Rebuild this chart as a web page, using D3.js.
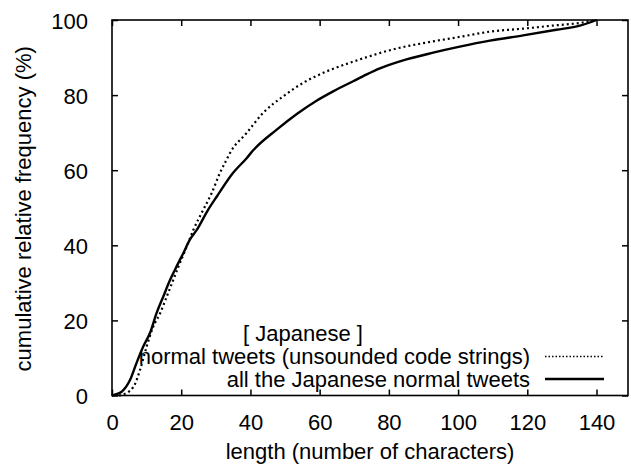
<!DOCTYPE html>
<html>
<head>
<meta charset="utf-8">
<script src="https://cdn.jsdelivr.net/npm/d3@7"></script>
<style>
  html, body { margin: 0; padding: 0; background: #fff; }
  svg { display: block; }
  text { font-family: "Liberation Sans", Arial, Helvetica, sans-serif; fill: #000; }
</style>
</head>
<body>
<svg id="chart" width="631" height="464"></svg>
<script>
// ---- data ----
const xTicks = [0, 20, 40, 60, 80, 100, 120, 140];
const yTicks = [0, 20, 40, 60, 80, 100];

const seriesNames = ["normal tweets (unsounded code strings)", "all the Japanese normal tweets"];
const legendTitle = "[ Japanese ]";
const xLabel = "length (number of characters)";
const yLabel = "cumulative relative frequency (%)";

// dotted: normal tweets (unsounded code strings)
const unsoundedX = [2, 3.3, 6.2, 8.1, 10.0, 11.9, 13.9, 15.8, 17.7, 19.2, 21.6, 23.5, 26.4, 28.8, 31.2, 33.1, 34.1, 38.9, 43.7, 49.5, 55.3, 62.0, 68.7, 71.6, 81.3, 90.9, 100.5, 109.2, 118.8, 128.4, 135.2, 140];
const unsoundedY = [0, 0.3, 2.3, 6.8, 13.0, 18.3, 21.9, 26.3, 30.8, 34.3, 39.7, 44.1, 49.5, 53.9, 59.3, 62.8, 64.6, 69.9, 75.3, 79.7, 83.3, 86.3, 88.6, 89.5, 92.2, 94.0, 95.5, 96.9, 97.7, 98.6, 99.2, 100];

// solid: all the Japanese normal tweets
const allX = [0, 1, 2.8, 5.2, 7.1, 9.0, 11.0, 12.9, 14.8, 16.8, 18.2, 20.6, 22.5, 24.5, 27.8, 30.3, 35.0, 38.9, 40.8, 47.6, 53.3, 59.1, 63.9, 69.7, 73.6, 77.4, 85.1, 92.8, 100.5, 109.2, 118.8, 128.4, 135.2, 140];
const allY = [0, 0.3, 1.0, 4.1, 8.7, 13.0, 16.7, 22.0, 26.3, 30.8, 33.5, 37.9, 41.5, 44.1, 49.5, 53.0, 59.3, 63.2, 65.3, 70.8, 74.9, 78.5, 81.0, 83.7, 85.5, 87.1, 89.5, 91.3, 92.9, 94.5, 95.9, 97.4, 98.5, 100];

// ---- layout ----
const svg = d3.select("#chart");
const L = 112, R = 628, T = 20, B = 395.5;
const FS = 22;

const x = d3.scaleLinear().domain([0, 149.1]).range([L, R]);
const y = d3.scaleLinear().domain([0, 100]).range([B, T]);

// ticks (mirrored, inward)
const axB = svg.append("g").attr("transform", `translate(0,${B})`)
  .call(d3.axisBottom(x).tickValues(xTicks).tickSize(-6).tickSizeOuter(0).tickPadding(24).tickFormat(d3.format("d")));
const axT = svg.append("g").attr("transform", `translate(0,${T})`)
  .call(d3.axisTop(x).tickValues(xTicks).tickSize(-6).tickSizeOuter(0).tickFormat(""));
const axL = svg.append("g").attr("transform", `translate(${L},0)`)
  .call(d3.axisLeft(y).tickValues(yTicks).tickSize(-6).tickSizeOuter(0).tickPadding(24).tickFormat(d3.format("d")));
const axR = svg.append("g").attr("transform", `translate(${R},0)`)
  .call(d3.axisRight(y).tickValues(yTicks).tickSize(-6).tickSizeOuter(0).tickFormat(""));

[axB, axT, axL, axR].forEach(g => {
  g.select(".domain").remove();
  g.selectAll(".tick line").attr("stroke", "#000").attr("stroke-width", 1.5);
  g.selectAll("text").style("font-size", FS + "px").attr("fill", "#000")
    .style("font-family", '"Liberation Sans", Arial, Helvetica, sans-serif');
});
axB.selectAll("text").attr("dy", "0.71em").attr("y", 19);
axL.selectAll("text").attr("x", -24).attr("dy", "0.38em");

// border
svg.append("rect").attr("x", L).attr("y", T).attr("width", R - L).attr("height", B - T)
  .attr("fill", "none").attr("stroke", "#000").attr("stroke-width", 1.6);

// curves
const line = d3.line().x(d => x(d[0])).y(d => y(d[1])).curve(d3.curveMonotoneX);
const unsounded = unsoundedX.map((v, i) => [v, unsoundedY[i]]);
const all = allX.map((v, i) => [v, allY[i]]);

svg.append("path").datum(unsounded).attr("d", line)
  .attr("fill", "none").attr("stroke", "#000").attr("stroke-width", 2.2)
  .attr("stroke-dasharray", "2,3");
svg.append("path").datum(all).attr("d", line)
  .attr("fill", "none").attr("stroke", "#000").attr("stroke-width", 2.4)
  .attr("stroke-linejoin", "round");

// legend
svg.append("text").attr("x", 303).attr("y", 341).attr("text-anchor", "middle")
  .style("font-size", FS + "px").text(legendTitle);
svg.append("text").attr("x", 530).attr("y", 364).attr("text-anchor", "end")
  .style("font-size", FS + "px").text(seriesNames[0]);
svg.append("text").attr("x", 530).attr("y", 387).attr("text-anchor", "end")
  .style("font-size", FS + "px").text(seriesNames[1]);
svg.append("line").attr("x1", 545).attr("x2", 603).attr("y1", 356.5).attr("y2", 356.5)
  .attr("stroke", "#000").attr("stroke-width", 1.6).attr("stroke-dasharray", "1.5,2");
svg.append("line").attr("x1", 545).attr("x2", 604).attr("y1", 379).attr("y2", 379)
  .attr("stroke", "#000").attr("stroke-width", 2.4);

// axis labels
svg.append("text").attr("x", (L + R) / 2).attr("y", 459).attr("text-anchor", "middle")
  .style("font-size", FS + "px").text(xLabel);
svg.append("text").attr("transform", `translate(31,${(T + B) / 2 + 1}) rotate(-90)`)
  .attr("text-anchor", "middle").style("font-size", FS + "px").text(yLabel);
</script>
</body>
</html>
